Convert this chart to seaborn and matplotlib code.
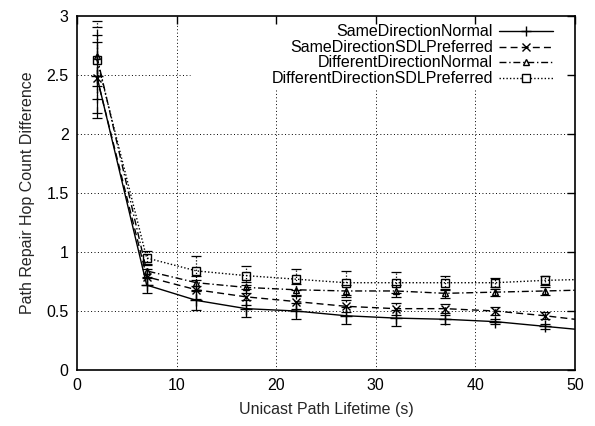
import matplotlib
matplotlib.use("Agg")
import matplotlib.pyplot as plt
import seaborn as sns
import numpy as np
import pandas as pd

# ---- data ----
x_vals = [2, 7, 12, 17, 22, 27, 32, 37, 42, 47, 52]
series_names = ["SameDirectionNormal", "SameDirectionSDLPreferred",
                "DifferentDirectionNormal", "DifferentDirectionSDLPreferred"]
same_normal = [2.49, 0.72, 0.59, 0.52, 0.50, 0.46, 0.44, 0.43, 0.41, 0.37, 0.33]
same_sdl = [2.48, 0.79, 0.68, 0.62, 0.58, 0.54, 0.52, 0.52, 0.50, 0.46, 0.41]
diff_normal = [2.66, 0.84, 0.74, 0.70, 0.68, 0.67, 0.67, 0.65, 0.66, 0.67, 0.68]
diff_sdl = [2.63, 0.95, 0.84, 0.80, 0.77, 0.74, 0.74, 0.74, 0.74, 0.76, 0.77]
same_normal_err = [0.35, 0.07, 0.08, 0.07, 0.07, 0.07, 0.07, 0.04, 0.02, 0.02, 0.02]
same_sdl_err = [0.30, 0.07, 0.08, 0.07, 0.06, 0.05, 0.05, 0.04, 0.03, 0.03, 0.03]
diff_normal_err = [0.25, 0.06, 0.06, 0.05, 0.05, 0.05, 0.05, 0.04, 0.03, 0.03, 0.03]
diff_sdl_err = [0.33, 0.06, 0.13, 0.08, 0.09, 0.10, 0.09, 0.06, 0.04, 0.04, 0.04]
x_ticks = [0, 10, 20, 30, 40, 50]
y_ticks = [0, 0.5, 1, 1.5, 2, 2.5, 3]
y_tick_labels = ["0", "0.5", "1", "1.5", "2", "2.5", "3"]

values = [same_normal, same_sdl, diff_normal, diff_sdl]
errors = [same_normal_err, same_sdl_err, diff_normal_err, diff_sdl_err]
markers = ["+", "x", "^", "s"]
msizes = [8, 6, 5, 6]
lstyles = ["-", (0, (5, 3)), (0, (5, 2, 1, 2)), (0, (1, 1.5))]

sns.set_theme(style="white")
plt.rcParams["font.family"] = ["Liberation Sans", "DejaVu Sans"]

fig = plt.figure(figsize=(5.95, 4.26), dpi=100)
ax = fig.add_axes([0.1294, 0.1315, 0.8366, 0.8305])

for name, vals, errs, mk, ms, ls in zip(series_names, values, errors, markers, msizes, lstyles):
    df = pd.DataFrame({"x": x_vals, "y": vals})
    sns.lineplot(data=df, x="x", y="y", ax=ax, color="black", linewidth=1.0,
                 linestyle=ls, marker=mk, markersize=ms, markerfacecolor="none",
                 markeredgecolor="black", markeredgewidth=1.0, legend=False)
    eb = ax.errorbar(x_vals, vals, yerr=errs, fmt="none", ecolor="black",
                     elinewidth=0.9, capsize=3.5, capthick=0.9)
    for coll in eb[2]:
        coll.set_linestyle(ls)

ax.set_xlim(0, 50)
ax.set_ylim(0, 3)
ax.set_xticks(x_ticks)
ax.set_yticks(y_ticks)
ax.set_yticklabels(y_tick_labels)
ax.set_xlabel("Unicast Path Lifetime (s)", fontsize=11.5, labelpad=6)
ax.set_ylabel("Path Repair Hop Count Difference", fontsize=11.5, labelpad=8)
ax.tick_params(axis="both", which="major", direction="in", length=6, width=1,
               top=True, right=True, labelsize=11.5, colors="black", pad=6)
for sp in ax.spines.values():
    sp.set_color("black")
    sp.set_linewidth(1.2)

# gnuplot-style grid, left out where the key sits
W, H = 498.0, 354.0
def fx(px):
    return (px - 77) / W
def fy(py):
    return (370 - py) / H
key_left, key_bottom = fx(190), fy(88)
grid_kw = dict(color="black", linestyle=(0, (1, 2.5)), linewidth=0.7, zorder=0.6)
for yv in y_ticks[1:-1]:
    ymax_ax = yv / 3.0
    if ymax_ax > key_bottom:
        ax.axhline(yv, xmin=0, xmax=key_left, **grid_kw)
    else:
        ax.axhline(yv, **grid_kw)
for xv in x_ticks[1:-1]:
    if xv / 50.0 > key_left:
        ax.axvline(xv, ymin=0, ymax=key_bottom, **grid_kw)
    else:
        ax.axvline(xv, **grid_kw)

# gnuplot-style key: right-aligned text, sample to the right
row_py = [31, 47, 62, 78]
for name, mk, ms, ls, py in zip(series_names, markers, msizes, lstyles, row_py):
    ax.text(fx(493), fy(py), name, transform=ax.transAxes, ha="right", va="center",
            fontsize=11.5, color="black")
    ax.plot([fx(499), fx(553)], [fy(py), fy(py)], transform=ax.transAxes,
            color="black", linewidth=1.0, linestyle=ls, clip_on=False)
    ax.plot([fx(526)], [fy(py)], transform=ax.transAxes, color="black",
            marker=mk, markersize=ms * 0.85, markerfacecolor="white",
            markeredgecolor="black", markeredgewidth=1.0, clip_on=False)

fig.savefig("out.png", dpi=100, facecolor="white")
